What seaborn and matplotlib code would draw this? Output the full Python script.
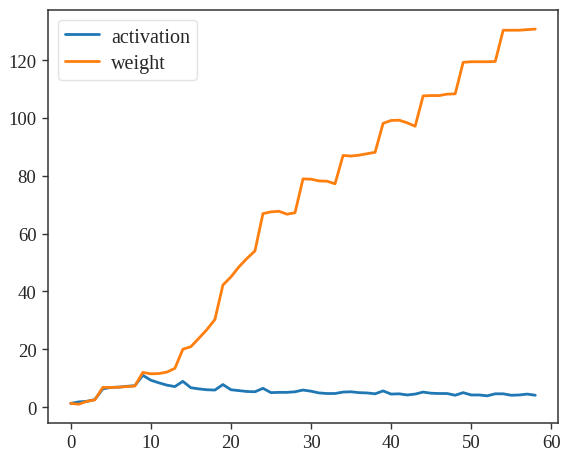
import numpy as np
import pandas as pd
import seaborn as sns
import matplotlib
matplotlib.use("Agg")
import matplotlib.pyplot as plt

step = list(range(59))
activation = [1.3, 1.8, 2.0, 2.6, 6.3, 6.8, 6.9, 7.2, 7.4, 11.0,
              9.3, 8.4, 7.6, 7.1, 8.9, 6.7, 6.3, 6.0, 5.9, 7.8,
              6.0, 5.7, 5.4, 5.3, 6.5, 5.0, 5.1, 5.1, 5.3, 5.9,
              5.5, 4.9, 4.7, 4.7, 5.2, 5.3, 5.0, 4.9, 4.6, 5.6,
              4.5, 4.6, 4.2, 4.5, 5.2, 4.8, 4.7, 4.7, 4.1, 5.0,
              4.2, 4.2, 3.9, 4.6, 4.6, 4.1, 4.2, 4.5, 4.1]
weight = [1.3, 1.0, 2.0, 2.5, 6.8, 6.8, 6.9, 7.1, 7.3, 12.0,
          11.5, 11.6, 12.1, 13.4, 20.0, 20.9, 23.8, 26.8, 30.3, 42.2,
          45.0, 48.5, 51.4, 54.0, 66.9, 67.5, 67.7, 66.7, 67.2, 78.9,
          78.8, 78.2, 78.1, 77.2, 87.0, 86.8, 87.1, 87.6, 88.1, 98.1,
          99.1, 99.2, 98.3, 97.1, 107.6, 107.7, 107.7, 108.2, 108.3, 119.2,
          119.4, 119.4, 119.4, 119.5, 130.3, 130.3, 130.3, 130.5, 130.7]

df = pd.DataFrame({"step": step * 2,
                   "value": activation + weight,
                   "series": ["activation"] * len(step) + ["weight"] * len(step)})

sns.set_style("ticks")
plt.rcParams['font.family'] = ['Liberation Serif', 'DejaVu Serif']

fig = plt.figure(figsize=(5.63, 4.52), dpi=100)
ax = fig.add_axes([0.0844, 0.062, 0.9076, 0.913])
sns.lineplot(data=df, x="step", y="value", hue="series",
             palette=["#1f77b4", "#ff7f0e"], linewidth=2.0, ax=ax)
ax.set_xlabel("")
ax.set_ylabel("")
ax.set_xticks([0, 10, 20, 30, 40, 50, 60])
ax.set_yticks([0, 20, 40, 60, 80, 100, 120])
ax.tick_params(labelsize=13.5, length=4, width=1.0, color="#333333", pad=4)
for s in ax.spines.values():
    s.set_color("#333333")
    s.set_linewidth(1.1)
leg = ax.legend(loc="upper left", fontsize=14.5, frameon=True,
                handlelength=1.7, handletextpad=0.6,
                borderpad=0.35, labelspacing=0.35)
leg.get_frame().set_edgecolor("#dddddd")
fig.savefig("out.png", dpi=100)
